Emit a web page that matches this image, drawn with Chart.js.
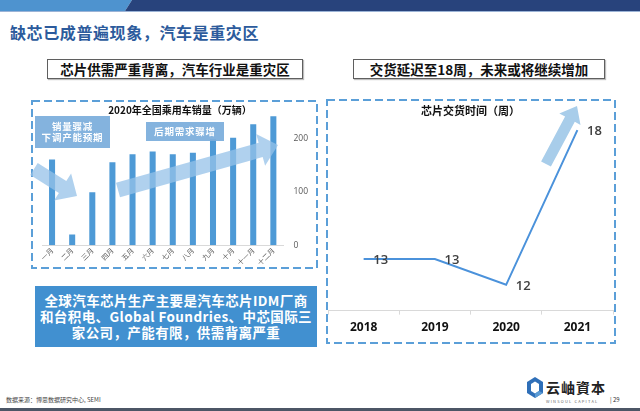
<!DOCTYPE html>
<html>
<head>
<meta charset="utf-8">
<script src="https://cdn.jsdelivr.net/npm/chart.js@4.4.1/dist/chart.umd.min.js"></script>
<style>
  body { margin: 0; width: 640px; height: 411px; position: relative; overflow: hidden; background: #fff;
         font-family: "Noto Sans CJK SC", "Noto Sans", sans-serif; }
  .abs { position: absolute; }
  #deco { position: absolute; left: 0; top: 0; z-index: 2; pointer-events: none; }
  .title { left: 10px; top: 20px; font-size: 16px; font-weight: 700; color: #2c5b9c; letter-spacing: 0.6px; white-space: nowrap; }
  .sub { height: 18px; border: 1.5px solid #5f5f5f; background: #fff; box-shadow: 1px 1px 1px #bdbdbd;
         font-size: 13.5px; font-weight: 700; color: #111; text-align: center; line-height: 18px; white-space: nowrap; }
  .tag { z-index: 3; background: rgba(122, 172, 219, 0.92); color: #fff; font-size: 9.5px; font-weight: 700;
         text-align: center; letter-spacing: 0.8px; white-space: nowrap; }
  .note { z-index: 3; left: 35px; top: 286px; width: 282px; height: 61px; background: #4190d0; color: #fff;
          font-size: 13.5px; font-weight: 700; line-height: 16px; text-align: center; padding-top: 6px; box-sizing: border-box;
          letter-spacing: 0.4px; }
  .src { left: 6px; top: 395px; font-size: 6px; color: #444; white-space: nowrap; }
</style>
</head>
<body>

<div class="abs title">缺芯已成普遍现象，汽车是重灾区</div>
<div class="abs sub" style="left:47px; top:59px; width:254px;">芯片供需严重背离，汽车行业是重灾区</div>
<div class="abs sub" style="left:353px; top:59px; width:250px;">交货延迟至18周，未来或将继续增加</div>

<canvas id="salesChart" class="abs" style="left:31px; top:100px; width:286px; height:168px; z-index:1;"></canvas>
<canvas id="leadChart" class="abs" style="left:326px; top:99px; width:289px; height:244px; z-index:1;"></canvas>

<div class="abs tag" style="left:35px; top:116px; width:75px; height:32px; line-height:11.5px; padding-top:4.5px; box-sizing:border-box;">销量骤减<br>下调产能预期</div>
<div class="abs tag" style="left:146px; top:122px; width:78px; height:19px; line-height:19px;">后期需求骤增</div>

<div class="abs note">全球汽车芯片生产主要是汽车芯片IDM厂商<br>和台积电、Global Foundries、中芯国际三<br>家公司，产能有限，供需背离严重</div>

<div class="abs src">数据来源：博思数据研究中心, SEMI</div>
<div class="abs" style="left:546px; top:377px; font-size:14px; font-weight:700; color:#222; font-family:'Noto Sans CJK TC'; letter-spacing:1px; white-space:nowrap;">云岫資本</div>
<div class="abs" style="left:546px; top:398px; font-size:4px; color:#666; letter-spacing:1.2px; white-space:nowrap;">WINSOUL CAPITAL</div>
<div class="abs" style="left:610px; top:395px; font-size:6px; color:#333; white-space:nowrap;">| 29</div>

<svg id="deco" width="640" height="411">
  <polygon points="0,0 132,0 125,11 0,11" fill="#4e93cf"/>
  <polygon points="132,0 640,0 640,11 125,11" fill="#28437c"/>
  <rect x="0" y="11" width="640" height="1" fill="#9bb3d6"/>
  <rect x="32" y="101" width="285" height="167" fill="none" stroke="#5b9fd8" stroke-width="2" stroke-dasharray="8 4"/>
  <rect x="327" y="100" width="288" height="243" fill="none" stroke="#5b9fd8" stroke-width="2" stroke-dasharray="8 4"/>
  <g id="arrows"></g>
  <polygon points="527,382 535,377 543,382 543,393 535,398 527,393" fill="#2f6fb8"/>
  <polygon points="531,384 535,381.5 539,384 539,391 535,393.5 531,391" fill="#fff"/>
  <polygon points="535,393.5 539,391 543,393 535,398" fill="#5b9bd5"/>
  <rect x="0" y="408" width="640" height="3" fill="#4c5666"/>
</svg>

<script>
// sales data, 2020 passenger cars (10k units)
const months = ['一月', '二月', '三月', '四月', '五月', '六月', '七月', '八月', '九月', '十月', '十一月', '十二月'];
const sales2020 = [160, 20, 99, 155, 170, 175, 170, 173, 198, 201, 226, 241];
const salesTicks = [0, 100, 200];

// chip lead time (weeks)
const years = ['2018', '2019', '2020', '2021'];
const leadWeeks = [13, 13, 12, 18];

const cjk = '"Noto Sans CJK SC", sans-serif';

// arrows on top of the charts
function arrowPoints(x1, y1, x2, y2, sw, hw, hl) {
  const L = Math.hypot(x2 - x1, y2 - y1);
  const ux = (x2 - x1) / L, uy = (y2 - y1) / L;
  const nx = -uy, ny = ux;
  const bx = x2 - ux * hl, by = y2 - uy * hl;
  const pts = [
    [x1 + nx * sw / 2, y1 + ny * sw / 2],
    [bx + nx * sw / 2, by + ny * sw / 2],
    [bx + nx * hw / 2, by + ny * hw / 2],
    [x2, y2],
    [bx - nx * hw / 2, by - ny * hw / 2],
    [bx - nx * sw / 2, by - ny * sw / 2],
    [x1 - nx * sw / 2, y1 - ny * sw / 2]
  ];
  return pts.map(p => p[0].toFixed(1) + ',' + p[1].toFixed(1)).join(' ');
}

const arrows = [
  [34, 169, 77, 196, 14, 32, 17, 'rgba(150,194,232,0.75)'],
  [118, 190, 278, 145, 15, 33, 18, 'rgba(150,194,232,0.75)'],
  [546, 164, 577, 106, 11, 24, 15, '#a8cdea']
];
const g = document.getElementById('arrows');
arrows.forEach(a => {
  const poly = document.createElementNS('http://www.w3.org/2000/svg', 'polygon');
  poly.setAttribute('points', arrowPoints(a[0], a[1], a[2], a[3], a[4], a[5], a[6]));
  poly.setAttribute('fill', a[7]);
  g.appendChild(poly);
});

// left: bar chart
new Chart(document.getElementById('salesChart'), {
  type: 'bar',
  data: {
    labels: months,
    datasets: [{
      data: sales2020,
      backgroundColor: '#4e9ad6',
      categoryPercentage: 1,
      barPercentage: 0.3
    }]
  },
  options: {
    responsive: false,
    animation: false,
    devicePixelRatio: 1,
    layout: { padding: { left: 11, right: -1, top: 0, bottom: 0 } },
    plugins: {
      legend: { display: false },
      tooltip: { enabled: false },
      title: {
        display: true,
        text: '2020年全国乘用车销量（万辆）',
        color: '#111',
        font: { family: cjk, size: 10, weight: 'bold' },
        padding: { top: 4, bottom: 0 }
      }
    },
    scales: {
      x: {
        grid: { display: false, drawTicks: false },
        border: { display: true, color: '#d9d9d9' },
        ticks: {
          color: '#595959',
          font: { family: cjk, size: 7 },
          minRotation: 45,
          maxRotation: 45,
          autoSkip: false,
          padding: 1
        }
      },
      y: {
        position: 'right',
        min: 0,
        max: 241.5,
        grid: { display: false, drawTicks: false },
        border: { display: false },
        afterBuildTicks: scale => { scale.ticks = salesTicks.map(v => ({ value: v })); },
        ticks: {
          color: '#595959',
          font: { family: '"Open Sans", sans-serif', size: 8.5 },
          padding: 10
        }
      }
    }
  }
});

// right: line chart, value labels next to the points
const pointLabels = {
  id: 'pointLabels',
  afterDatasetsDraw(chart) {
    const ctx = chart.ctx;
    const meta = chart.getDatasetMeta(0);
    ctx.save();
    ctx.font = '600 13px "Open Sans", sans-serif';
    ctx.fillStyle = '#404040';
    ctx.textAlign = 'center';
    ctx.textBaseline = 'middle';
    meta.data.forEach((pt, i) => {
      ctx.fillText(String(leadWeeks[i]), pt.x + 17, pt.y + 1);
    });
    ctx.restore();
  }
};

new Chart(document.getElementById('leadChart'), {
  type: 'line',
  data: {
    labels: years,
    datasets: [{
      data: leadWeeks,
      borderColor: '#4b92db',
      borderWidth: 2,
      pointRadius: 0,
      tension: 0,
      fill: false
    }]
  },
  options: {
    responsive: false,
    animation: false,
    devicePixelRatio: 1,
    layout: { padding: { left: 2, right: 2, top: 0, bottom: 2 } },
    plugins: {
      legend: { display: false },
      tooltip: { enabled: false },
      title: {
        display: true,
        text: '芯片交货时间（周）',
        color: '#111',
        font: { family: cjk, size: 11, weight: 'bold' },
        padding: { top: 5, bottom: 0 }
      }
    },
    scales: {
      x: {
        offset: true,
        grid: { display: true, offset: true, drawOnChartArea: false, drawTicks: true, tickLength: 4, color: '#d9d9d9' },
        border: { display: true, color: '#d9d9d9' },
        ticks: {
          color: '#111',
          font: { family: '"Open Sans", sans-serif', size: 12, weight: 'bold' },
          padding: 6
        }
      },
      y: {
        display: false,
        min: 11,
        max: 18.5
      }
    }
  },
  plugins: [pointLabels]
});
</script>
</body>
</html>
